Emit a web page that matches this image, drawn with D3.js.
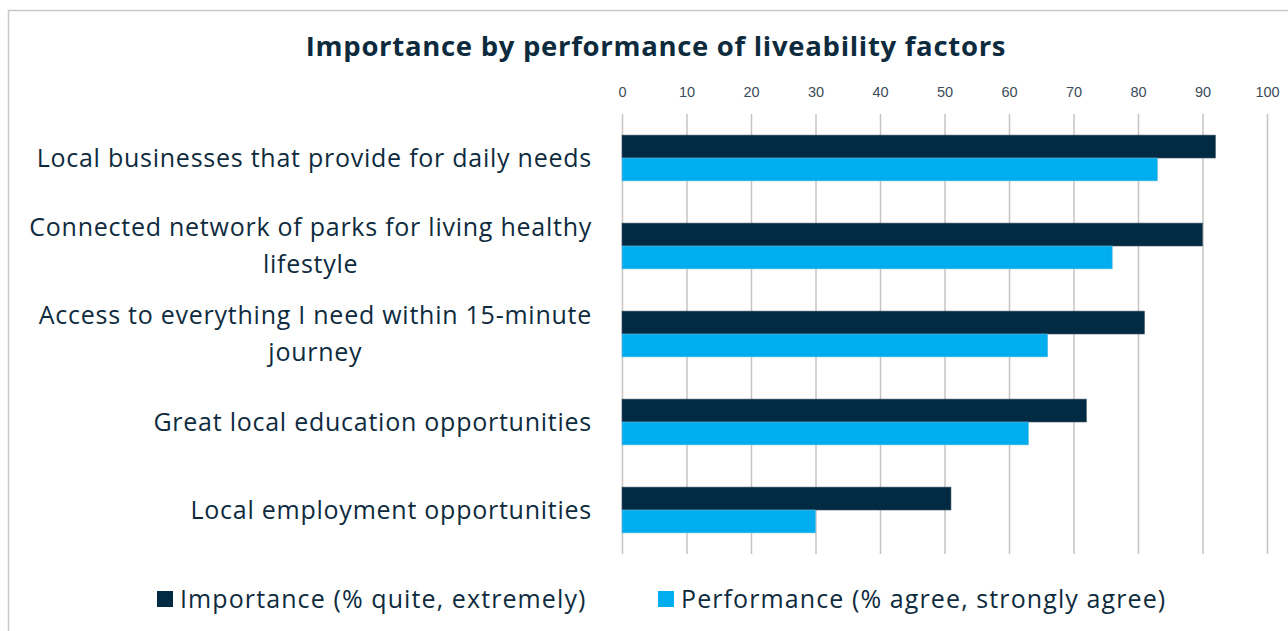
<!DOCTYPE html>
<html>
<head>
<meta charset="utf-8">
<script src="https://cdn.jsdelivr.net/npm/d3@7"></script>
<style>
  body { margin: 0; background: #fff; }
  svg { display: block; font-family: 'Open Sans', sans-serif; }
  .axis path { display: none; }
  .axis line { stroke: #c4c4c4; stroke-width: 1.5; }
  .axis text { fill: #3b4d5a; font-size: 14.5px; }
</style>
</head>
<body>
<div id="chart"></div>
<script>
const categories = [
  ['Local businesses that provide for daily needs'],
  ['Connected network of parks for living healthy', 'lifestyle'],
  ['Access to everything I need within 15-minute', 'journey'],
  ['Great local education opportunities'],
  ['Local employment opportunities']
]
const importance = [92, 90, 81, 72, 51]
const performance = [83, 76, 66, 63, 30]
const seriesNames = ['Importance (% quite, extremely)', 'Performance (% agree, strongly agree)']
const ticks = [0, 10, 20, 30, 40, 50, 60, 70, 80, 90, 100]

const width = 1288
const height = 631
const plot = { left: 622, right: 1267, top: 114, bottom: 554 }
const textColor = '#0e2b3e'
const colors = ['#022a42', '#00adee']

const svg = d3.select('#chart')
  .append('svg')
  .attr('width', width)
  .attr('height', height)

// chart area border (runs off the picture at right and bottom)
svg.append('rect')
  .attr('x', 8.5)
  .attr('y', 10.5)
  .attr('width', 1400)
  .attr('height', 800)
  .attr('fill', 'none')
  .attr('stroke', '#c8c8c8')
  .attr('stroke-width', 1.5)

svg.append('text')
  .attr('x', 656)
  .attr('y', 56)
  .attr('text-anchor', 'middle')
  .attr('fill', textColor)
  .attr('font-weight', 700)
  .attr('font-size', '27.5px')
  .attr('letter-spacing', '0.7px')
  .text('Importance by performance of liveability factors')

const x = d3.scaleLinear()
  .domain([0, 100])
  .range([plot.left, plot.right])

const y = d3.scaleBand()
  .domain(d3.range(categories.length))
  .range([plot.top, plot.bottom])
  .paddingInner(0.48)
  .paddingOuter(0.24)

const ySub = d3.scaleBand()
  .domain([0, 1])
  .range([0, y.bandwidth()])

const xAxis = d3.axisTop(x)
  .tickValues(ticks)
  .tickSize(-(plot.bottom - plot.top))
  .tickPadding(17)

svg.append('g')
  .attr('class', 'axis x-axis')
  .attr('transform', 'translate(0,' + plot.top + ')')
  .call(xAxis)

const rows = categories.map((c, i) => ({ label: c, values: [importance[i], performance[i]] }))

const groups = svg.selectAll('.group')
  .data(rows)
  .enter()
  .append('g')
  .attr('class', 'group')
  .attr('transform', (d, i) => 'translate(0,' + y(i) + ')')

groups.selectAll('rect')
  .data(d => d.values)
  .enter()
  .append('rect')
  .attr('x', x(0))
  .attr('y', (d, j) => ySub(j))
  .attr('width', d => x(d) - x(0))
  .attr('height', ySub.bandwidth())
  .attr('fill', (d, j) => colors[j])
  .attr('stroke', (d, j) => j === 0 ? '#3d5566' : '#5fb7dc')
  .attr('stroke-width', 0.6)

// category labels: block right-aligned, wrapped lines centred in the block
const labelRight = 592
const lineHeight = 37
groups.each(function(d, i) {
  const g = d3.select(this)
  const cy = y.bandwidth() / 2
  const t = g.append('text')
    .attr('fill', textColor)
    .attr('font-size', '25px')
    .attr('letter-spacing', '0.75px')
    .attr('text-anchor', 'middle')
  const n = d.label.length
  d.label.forEach((line, k) => {
    t.append('tspan')
      .attr('y', cy + (k - (n - 1) / 2) * lineHeight)
      .attr('dy', '0.35em')
      .text(line)
  })
  const w = d3.max(t.selectAll('tspan').nodes(), s => s.getComputedTextLength())
  t.selectAll('tspan').attr('x', labelRight - w / 2)
})

// legend
const legend = svg.append('g').attr('class', 'legend')
const legendX = [157, 658]
seriesNames.forEach((name, j) => {
  legend.append('rect')
    .attr('x', legendX[j])
    .attr('y', 591)
    .attr('width', 16)
    .attr('height', 16)
    .attr('fill', colors[j])
  legend.append('text')
    .attr('x', legendX[j] + 23)
    .attr('y', 599)
    .attr('dy', '0.35em')
    .attr('fill', textColor)
    .attr('font-size', '25px')
    .attr('letter-spacing', '1.1px')
    .text(name)
})
</script>
</body>
</html>
